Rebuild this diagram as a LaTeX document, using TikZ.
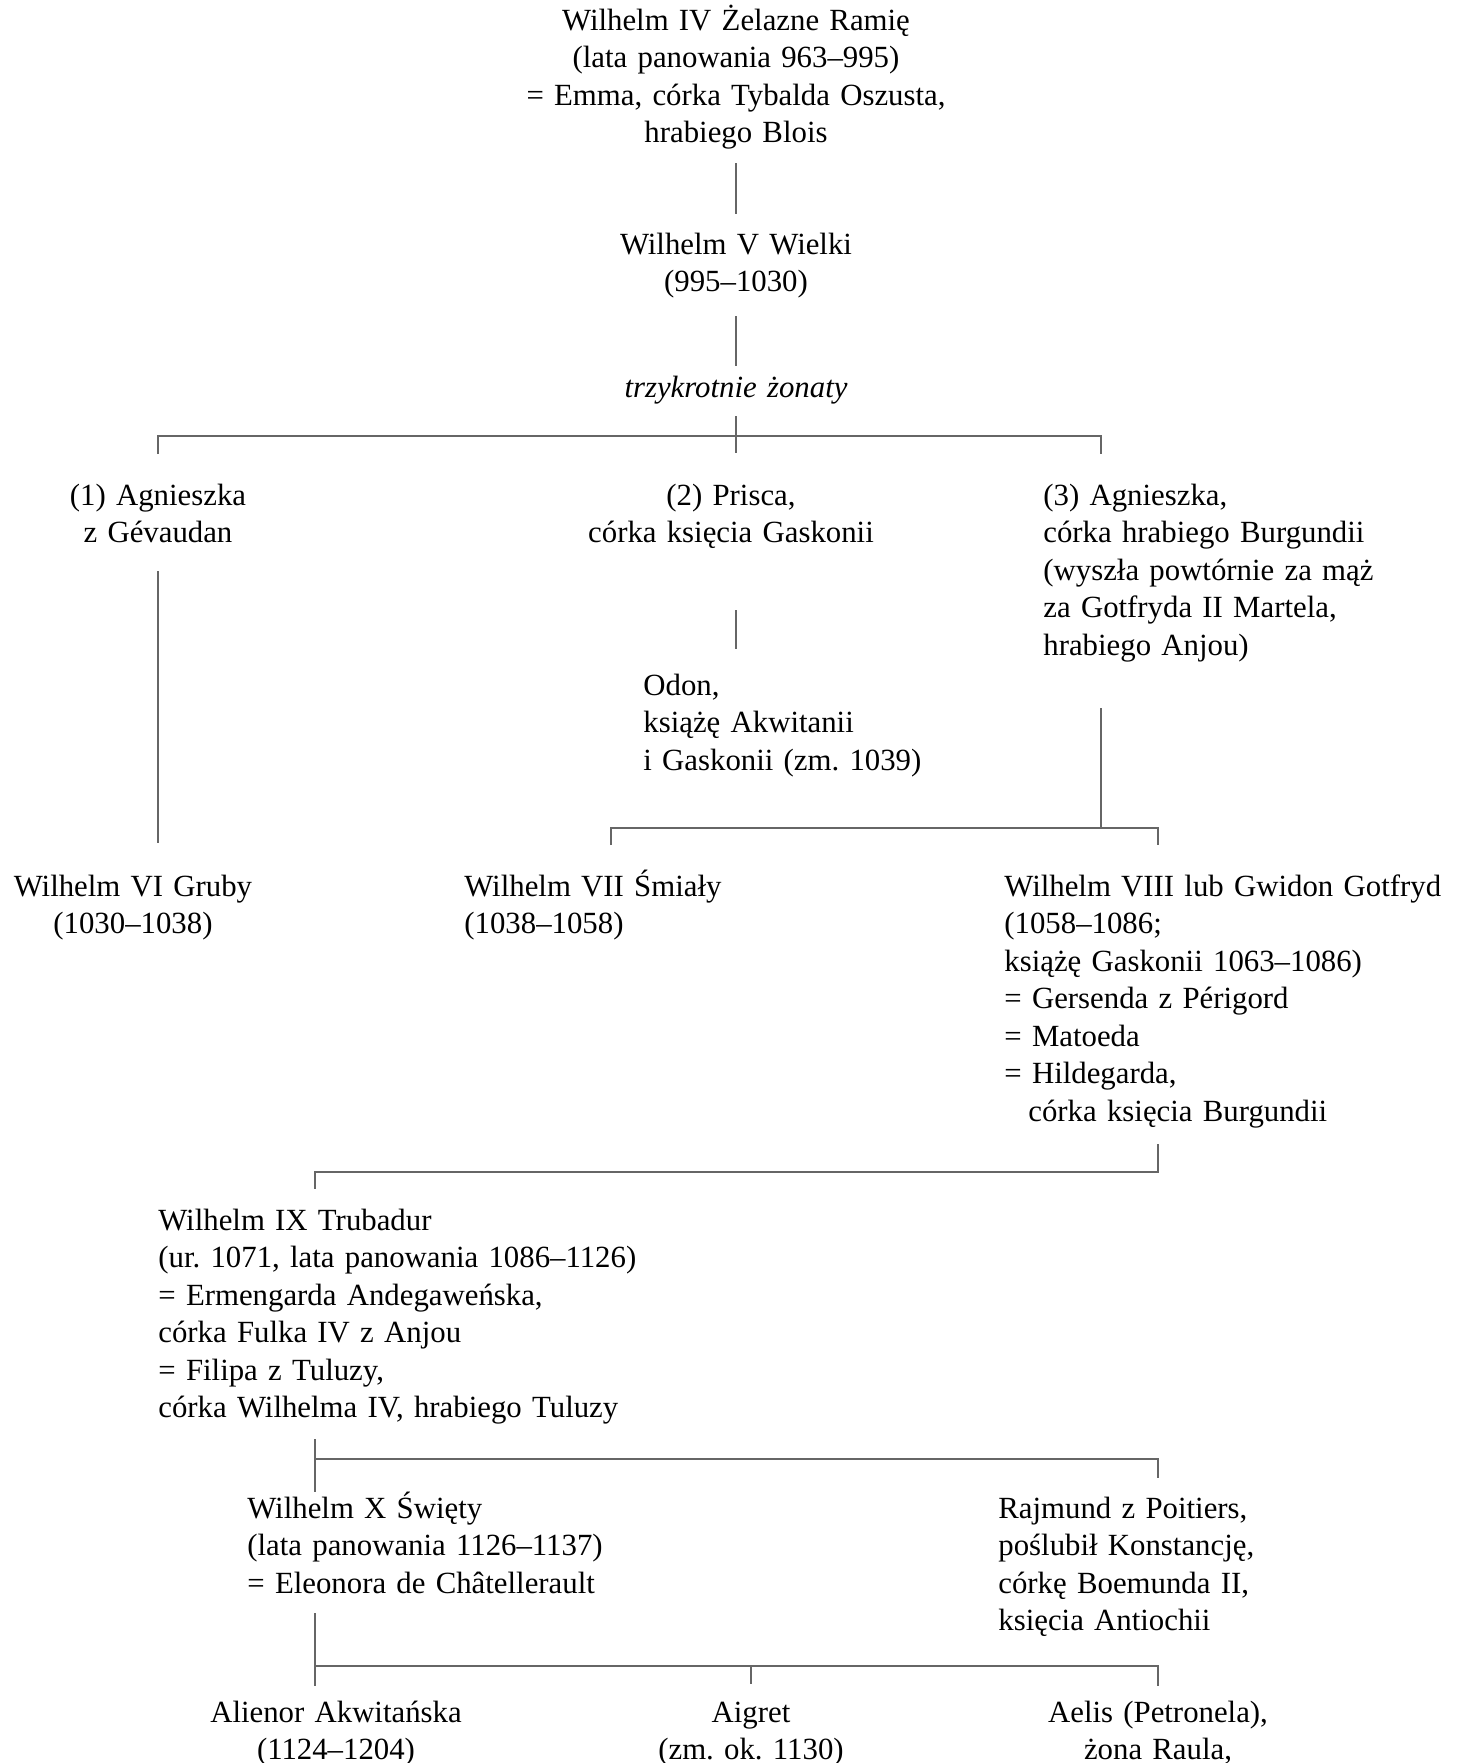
\documentclass[tikz,border=0pt]{standalone}
\usepackage{fontspec}
\setmainfont{Liberation Serif}
\frenchspacing
\newcommand\pfont{\fontsize{15.4}{18.75}\selectfont}
\begin{document}
\begin{tikzpicture}[x=0.5pt,y=-0.5pt,
  pc/.style={anchor=base,align=center,inner sep=0,font=\pfont,text width=#1},
  pc/.default=260pt,
  pl/.style={anchor=base west,align=left,inner sep=0,font=\pfont,text width=#1},
  pl/.default=260pt,
  conn/.style={draw=black!60,line width=0.6pt}]
\useasboundingbox (0,0) rectangle (1467,1763);
\clip (0,0) rectangle (1467,1763);
% persons
\node[pc] (top) at (736,30) {Wilhelm IV Żelazne Ramię\\(lata panowania 963–995)\\= Emma, córka Tybalda Oszusta,\\hrabiego Blois};
\node[pc] (w5) at (736,254) {Wilhelm V Wielki\\(995–1030)};
\node[pc,font=\pfont\itshape] (wives) at (736,397) {trzykrotnie żonaty};
\node[pc=200pt] (ag1) at (158,505) {(1) Agnieszka\\z Gévaudan};
\node[pc] (pri) at (731,505) {(2) Prisca,\\córka księcia Gaskonii};
\node[pl] (ag3) at (1043,505) {(3) Agnieszka,\\córka hrabiego Burgundii\\(wyszła powtórnie za mąż\\za Gotfryda II Martela,\\hrabiego Anjou)};
\node[pl] (odo) at (643,695) {Odon,\\książę Akwitanii\\i Gaskonii (zm. 1039)};
\node[pc=200pt] (w6) at (133,896) {Wilhelm VI Gruby\\(1030–1038)};
\node[pl] (w7) at (464,896) {Wilhelm VII Śmiały\\(1038–1058)};
\node[pl] (w8) at (1004,896) {Wilhelm VIII lub Gwidon Gotfryd\\(1058–1086;\\książę Gaskonii 1063–1086)\\= Gersenda z Périgord\\= Matoeda\\= Hildegarda,\\\hspace*{12pt}córka księcia Burgundii};
\node[pl=300pt] (w9) at (158,1230) {Wilhelm IX Trubadur\\(ur. 1071, lata panowania 1086–1126)\\= Ermengarda Andegaweńska,\\córka Fulka IV z Anjou\\= Filipa z Tuluzy,\\córka Wilhelma IV, hrabiego Tuluzy};
\node[pl] (w10) at (247,1518) {Wilhelm X Święty\\(lata panowania 1126–1137)\\= Eleonora de Châtellerault};
\node[pl] (raj) at (998,1518) {Rajmund z Poitiers,\\poślubił Konstancję,\\córkę Boemunda II,\\księcia Antiochii};
\node[pc] (ali) at (336,1722) {Alienor Akwitańska\\(1124–1204)};
\node[pc] (aig) at (751,1722) {Aigret\\(zm. ok. 1130)};
\node[pc] (ael) at (1158,1722) {Aelis (Petronela),\\żona Raula,};
% junction coordinates
\coordinate (t1) at (736,163); \coordinate (t2) at (736,214);
\coordinate (v1) at (736,316); \coordinate (v2) at (736,366);
\coordinate (m1) at (736,416); \coordinate (m2) at (736,453);
\coordinate (b1l) at (158,436); \coordinate (b1r) at (1101,436);
\coordinate (b1lt) at (158,454); \coordinate (b1rt) at (1101,454);
\coordinate (a1t) at (158,571); \coordinate (a1b) at (158,843);
\coordinate (p1) at (736,610); \coordinate (p2) at (736,649);
\coordinate (a3t) at (1101,708); \coordinate (a3b) at (1101,828);
\coordinate (b2l) at (611,828); \coordinate (b2r) at (1158,828);
\coordinate (b2lt) at (611,845); \coordinate (b2rt) at (1158,845);
\coordinate (e8t) at (1158,1144); \coordinate (b3r) at (1158,1172);
\coordinate (b3l) at (315,1172); \coordinate (b3lt) at (315,1189);
\coordinate (e9t) at (315,1439); \coordinate (e9b) at (315,1492);
\coordinate (b4l) at (315,1459); \coordinate (b4r) at (1158,1459);
\coordinate (b4rt) at (1158,1478);
\coordinate (e10t) at (315,1613); \coordinate (e10b) at (315,1686);
\coordinate (b5l) at (315,1666); \coordinate (b5r) at (1158,1666);
\coordinate (b5m) at (751,1666); \coordinate (b5mt) at (751,1684);
\coordinate (b5rt) at (1158,1686);
% connectors
\draw[conn] (t1) -- (t2);
\draw[conn] (v1) -- (v2);
\draw[conn] (m1) -- (m2);
\draw[conn] (b1lt) -- (b1l) -- (b1r) -- (b1rt);
\draw[conn] (a1t) -- (a1b);
\draw[conn] (p1) -- (p2);
\draw[conn] (a3t) -- (a3b);
\draw[conn] (b2lt) -- (b2l) -- (b2r) -- (b2rt);
\draw[conn] (e8t) -- (b3r) -- (b3l) -- (b3lt);
\draw[conn] (e9t) -- (e9b);
\draw[conn] (b4l) -- (b4r) -- (b4rt);
\draw[conn] (e10t) -- (e10b);
\draw[conn] (b5l) -- (b5r) -- (b5rt);
\draw[conn] (b5m) -- (b5mt);
\end{tikzpicture}
\end{document}
